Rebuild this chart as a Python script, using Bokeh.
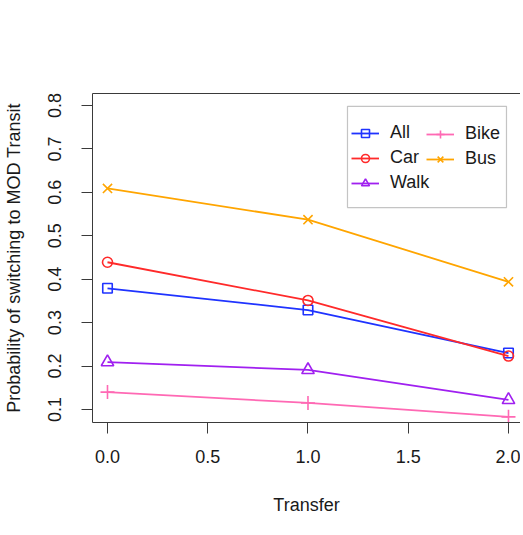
import math
from bokeh.plotting import figure
from bokeh.models import (FixedTicker, LinearAxis, Legend, LegendItem,
                          BoxAnnotation, Range1d)
from bokeh.embed import file_html
from bokeh.resources import INLINE

# ---- data ----
transfer = [0, 1, 2]
series_names = ["All", "Car", "Walk", "Bike", "Bus"]
all_vals = [0.379, 0.329, 0.230]
car_vals = [0.439, 0.351, 0.223]
walk_vals = [0.209, 0.191, 0.122]
bike_vals = [0.140, 0.115, 0.083]
bus_vals = [0.609, 0.537, 0.394]

x_ticks = [0, 0.5, 1.0, 1.5, 2.0]
x_tick_labels = ["0.0", "0.5", "1.0", "1.5", "2.0"]
y_ticks = [0.1, 0.2, 0.3, 0.4, 0.5, 0.6, 0.7, 0.8]
y_tick_labels = ["0.1", "0.2", "0.3", "0.4", "0.5", "0.6", "0.7", "0.8"]

x_label = "Transfer"
y_label = "Probability of switching to MOD Transit"

# ---- styles ----
FONT = "Liberation Sans"
TXT = "#1a1a1a"
AX = "#3a3a3a"
colors = {"All": "#1f33ff", "Car": "#ff2a2a", "Walk": "#a020f0",
          "Bike": "#ff69b4", "Bus": "#ffa500"}
markers = {"All": ("square", 9.5), "Car": ("circle", 10),
           "Walk": ("triangle", 12.5), "Bike": ("cross", 14),
           "Bus": ("x", 13)}
values = {"All": all_vals, "Car": car_vals, "Walk": walk_vals,
          "Bike": bike_vals, "Bus": bus_vals}

p = figure(width=520, height=530, output_backend="svg", toolbar_location=None,
           x_range=Range1d(-0.0748, 2.0599), y_range=Range1d(0.070, 0.8276),
           min_border_left=92, min_border_top=93, min_border_bottom=108,
           min_border_right=0)
p.outline_line_color = None
p.background_fill_color = "white"
p.border_fill_color = "white"
p.xgrid.visible = False
p.ygrid.visible = False

items = {}
for name in series_names:
    c = colors[name]
    m, s = markers[name]
    lr = p.line(transfer, values[name], line_color=c, line_width=1.8)
    sr = p.scatter(transfer, values[name], marker=m, size=s, line_color=c,
                   fill_color=None, line_width=1.6)
    items[name] = LegendItem(label=name, renderers=[lr, sr])

# axes
for ax, ticks, labels in ((p.xaxis[0], x_ticks, x_tick_labels),
                          (p.yaxis[0], y_ticks, y_tick_labels)):
    ax.ticker = FixedTicker(ticks=ticks)
    ax.major_label_overrides = {t: l for t, l in zip(ticks, labels)}
    ax.minor_tick_line_color = None
    ax.major_tick_in = 0
    ax.major_tick_out = 11
    ax.major_tick_line_color = AX
    ax.axis_line_color = AX
    ax.major_label_text_font = FONT
    ax.major_label_text_font_size = "18px"
    ax.major_label_text_color = TXT
    ax.axis_label_text_font = FONT
    ax.axis_label_text_font_size = "18px"
    ax.axis_label_text_font_style = "normal"
    ax.axis_label_text_color = TXT

p.xaxis[0].axis_label = x_label
p.xaxis[0].major_label_standoff = 16
p.xaxis[0].axis_label_standoff = 29
p.yaxis[0].axis_label = y_label
p.yaxis[0].major_label_orientation = "parallel"
p.yaxis[0].major_label_standoff = 20
p.yaxis[0].axis_label_standoff = 22

top_axis = LinearAxis(ticker=FixedTicker(ticks=[]), axis_line_color=AX,
                      major_label_text_font_size="0px", major_tick_out=0,
                      major_tick_in=0, minor_tick_out=0, minor_tick_in=0)
p.add_layout(top_axis, "above")

# legend frame
p.add_layout(BoxAnnotation(left=1.197, right=1.99, top=0.798, bottom=0.565,
                           fill_alpha=0, line_color=AX, line_width=1.2,
                           level="annotation"))

common = dict(glyph_width=28, glyph_height=20, label_height=20,
              label_standoff=11, spacing=4, padding=0, margin=0,
              border_line_color=None, background_fill_alpha=0,
              label_text_font=FONT, label_text_font_size="18px",
              label_text_color=TXT)
legend1 = Legend(items=[items[n] for n in ["All", "Car", "Walk"]],
                 location=(259, 229), **common)
legend2 = Legend(items=[items[n] for n in ["Bike", "Bus"]],
                 location=(334, 253), **common)
p.add_layout(legend1)
p.add_layout(legend2)

open("out.html", "w").write(file_html(p, INLINE))
